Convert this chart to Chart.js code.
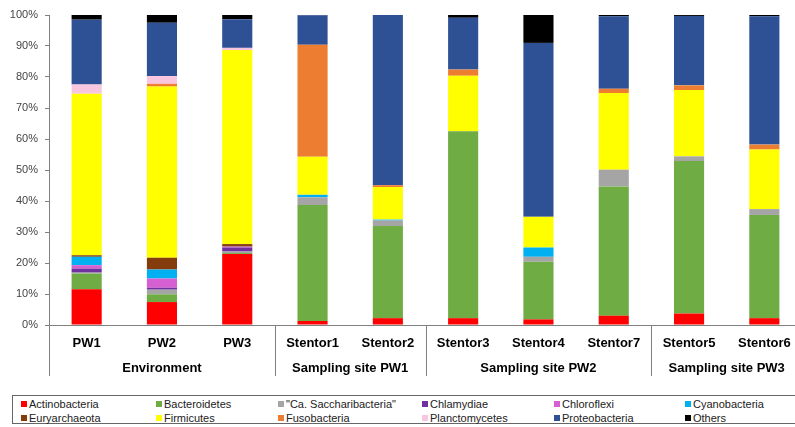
<!DOCTYPE html>
<html>
<head>
<meta charset="utf-8">
<script src="https://cdn.jsdelivr.net/npm/chart.js@4.4.1/dist/chart.umd.min.js"></script>
<style>
  body { margin: 0; background: #fff; overflow: hidden; font-family: "Liberation Sans", Arial, sans-serif; }
  #wrap { position: absolute; left: 0; top: 0; width: 803px; height: 385px; }
  #legend { position: absolute; left: 12px; top: 395px; width: 800px; height: 29px; border: 1px solid #666; box-sizing: border-box; }
  .item { position: absolute; font-size: 11px; color: #222; white-space: nowrap; line-height: 12px; }
  .item span { display: inline-block; width: 6px; height: 6px; margin-right: 2px; vertical-align: 1px; }
</style>
</head>
<body>
<div id="wrap"><canvas id="chart"></canvas></div>
<div id="legend"></div>
<script>
const samples = ['PW1', 'PW2', 'PW3', 'Stentor1', 'Stentor2', 'Stentor3', 'Stentor4', 'Stentor7', 'Stentor5', 'Stentor6'];
const groupLabels = ['Environment', 'Sampling site PW1', 'Sampling site PW2', 'Sampling site PW3'];
const groupSizes = [3, 2, 3, 2];
const yTicks = [0, 10, 20, 30, 40, 50, 60, 70, 80, 90, 100];

const taxa = ['Actinobacteria', 'Bacteroidetes', '"Ca. Saccharibacteria"', 'Chlamydiae', 'Chloroflexi', 'Cyanobacteria',
  'Euryarchaeota', 'Firmicutes', 'Fusobacteria', 'Planctomycetes', 'Proteobacteria', 'Others'];

const actinobacteria   = [11.5, 7.4, 22.9, 1.3, 2.2, 2.2, 1.8, 3.0, 3.7, 2.2];
const bacteroidetes    = [5.1, 2.5, 0.3, 37.4, 29.7, 60.3, 18.6, 41.7, 49.2, 33.3];
const saccharibacteria = [0.3, 1.5, 0.5, 2.5, 1.8, 0, 1.6, 5.4, 1.5, 1.9];
const chlamydiae       = [1.3, 0.6, 1.3, 0, 0, 0, 0, 0, 0, 0];
const chloroflexi      = [1.1, 3.0, 0.3, 0, 0, 0, 0, 0, 0, 0];
const cyanobacteria    = [2.7, 2.9, 0, 0.8, 0.3, 0, 3.0, 0, 0, 0];
const euryarchaeota    = [0.5, 3.8, 0.8, 0, 0, 0, 0, 0, 0, 0];
const firmicutes       = [52.1, 55.2, 62.6, 12.3, 10.5, 17.9, 9.9, 24.7, 21.4, 19.2];
const fusobacteria     = [0, 0.9, 0, 36.1, 0.6, 2.0, 0, 1.4, 1.5, 1.6];
const planctomycetes   = [3.0, 2.5, 0.7, 0, 0, 0, 0, 0, 0, 0];
const proteobacteria   = [20.9, 17.2, 9.2, 9.5, 54.9, 16.7, 56.1, 23.4, 22.4, 41.4];
const others           = [1.5, 2.5, 1.4, 0.1, 0, 0.9, 9.0, 0.4, 0.3, 0.4];

const series = [actinobacteria, bacteroidetes, saccharibacteria, chlamydiae, chloroflexi, cyanobacteria,
  euryarchaeota, firmicutes, fusobacteria, planctomycetes, proteobacteria, others];
const colors = ['#ff0000', '#6fac44', '#a5a5a5', '#7030a0', '#d660d2', '#00b0f0',
  '#843c0c', '#ffff00', '#ed7d31', '#f9c6e0', '#2e5196', '#000000'];

// legend, 2 rows x 6 columns
const legendCols = [8, 143, 265, 409, 541, 672];
const legend = document.getElementById('legend');
taxa.forEach(function (name, i) {
  const d = document.createElement('div');
  d.className = 'item';
  d.style.left = legendCols[i % 6] + 'px';
  d.style.top = (i < 6 ? 2 : 16) + 'px';
  d.innerHTML = '<span style="background:' + colors[i] + '"></span>' + name.replace(/"/g, '&quot;');
  legend.appendChild(d);
});

const groupPlugin = {
  id: 'groups',
  afterDraw(chart) {
    const ctx = chart.ctx;
    const x = chart.scales.x;
    const area = chart.chartArea;
    ctx.save();
    ctx.strokeStyle = '#808080';
    ctx.lineWidth = 1;
    ctx.fillStyle = '#000';
    ctx.font = 'bold 13px "Liberation Sans", Arial, sans-serif';
    ctx.textAlign = 'center';
    ctx.textBaseline = 'middle';
    let start = 0;
    let left = area.left;
    groupSizes.forEach(function (n, g) {
      const end = start + n - 1;
      const right = g === groupSizes.length - 1 ? area.right
        : (x.getPixelForValue(end) + x.getPixelForValue(end + 1)) / 2;
      const lx = Math.round(left) + 0.5;
      ctx.beginPath();
      ctx.moveTo(lx, area.bottom);
      ctx.lineTo(lx, 376);
      ctx.stroke();
      ctx.fillText(groupLabels[g], (left + right) / 2, 368);
      left = right;
      start = end + 1;
    });
    ctx.restore();
  }
};

new Chart(document.getElementById('chart'), {
  type: 'bar',
  data: {
    labels: samples,
    datasets: series.map(function (vals, i) {
      return { label: taxa[i], data: vals, backgroundColor: colors[i], borderWidth: 0 };
    })
  },
  options: {
    responsive: true,
    maintainAspectRatio: false,
    animation: false,
    layout: { padding: { top: 15, right: 1, left: 0, bottom: 0 } },
    plugins: { legend: { display: false }, tooltip: { enabled: false } },
    datasets: { bar: { categoryPercentage: 1, barPercentage: 0.4 } },
    scales: {
      x: {
        stacked: true,
        afterFit(scale) { scale.height = 60; },
        grid: { display: false, drawTicks: false },
        border: { display: true, color: '#808080', width: 1 },
        ticks: { color: '#000', padding: 11, maxRotation: 0, autoSkip: false,
          font: { family: '"Liberation Sans", Arial, sans-serif', size: 13, weight: 'bold' } }
      },
      y: {
        stacked: true,
        min: 0,
        max: 100,
        afterFit(scale) { scale.width = 49; },
        afterBuildTicks(scale) { scale.ticks = yTicks.map(function (v) { return { value: v }; }); },
        grid: { drawOnChartArea: false, drawTicks: true, tickLength: 4, color: '#808080' },
        border: { display: true, color: '#808080', width: 1 },
        ticks: { color: '#444', padding: 7, callback: function (v) { return v + '%'; },
          font: { family: '"Liberation Sans", Arial, sans-serif', size: 11 } }
      }
    }
  },
  plugins: [groupPlugin]
});
</script>
</body>
</html>
